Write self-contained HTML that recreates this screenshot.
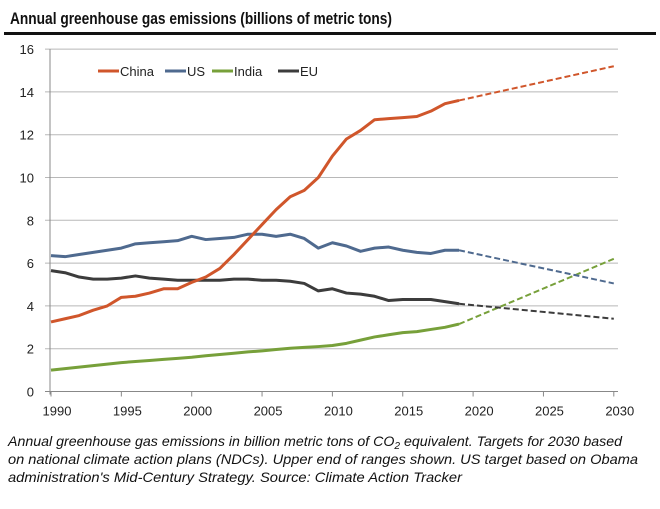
<!DOCTYPE html>
<html><head><meta charset="utf-8"><style>
body{margin:0;background:#fff;width:660px;height:504px;overflow:hidden;font-family:"Liberation Sans",sans-serif}
</style></head><body>
<svg width="660" height="504">
<text x="10" y="24" font-size="16.5" font-weight="bold" fill="#111" textLength="382" lengthAdjust="spacingAndGlyphs">Annual greenhouse gas emissions (billions of metric tons)</text>
<rect x="4" y="32" width="652" height="3" fill="#111"/>
<g id="grid"></g><g id="axes"></g><g id="series"></g>
<g font-size="13" fill="#222">
<line x1="98" y1="71" x2="119" y2="71" stroke="#d0562b" stroke-width="3"/><text x="120" y="76">China</text>
<line x1="165" y1="71" x2="186" y2="71" stroke="#4f6a8f" stroke-width="3"/><text x="187" y="76">US</text>
<line x1="212" y1="71" x2="233" y2="71" stroke="#77a03a" stroke-width="3"/><text x="234" y="76">India</text>
<line x1="278" y1="71" x2="299" y2="71" stroke="#3c3c3c" stroke-width="3"/><text x="300" y="76">EU</text>
</g>
<g font-size="14" font-style="italic" fill="#111">
<text x="8" y="446" textLength="614" lengthAdjust="spacingAndGlyphs">Annual greenhouse gas emissions in billion metric tons of CO<tspan font-size="10" dy="3">2</tspan><tspan dy="-3"> equivalent. Targets for 2030 based</tspan></text>
<text x="8" y="464" textLength="630" lengthAdjust="spacingAndGlyphs">on national climate action plans (NDCs). Upper end of ranges shown. US target based on Obama</text>
<text x="8" y="482" textLength="454" lengthAdjust="spacingAndGlyphs">administration's Mid-Century Strategy. Source: Climate Action Tracker</text>
</g>
</svg>
<script>
const years=[];for(let y=1990;y<=2019;y++)years.push(y);
const china=[3.25,3.4,3.55,3.8,4.0,4.4,4.45,4.6,4.8,4.8,5.1,5.35,5.75,6.4,7.1,7.8,8.5,9.1,9.4,10.0,11.0,11.8,12.2,12.7,12.75,12.8,12.85,13.1,13.45,13.6];
const us=[6.35,6.3,6.4,6.5,6.6,6.7,6.9,6.95,7.0,7.05,7.25,7.1,7.15,7.2,7.35,7.35,7.25,7.35,7.15,6.7,6.95,6.8,6.55,6.7,6.75,6.6,6.5,6.45,6.6,6.6];
const india=[1.0,1.07,1.14,1.21,1.28,1.35,1.4,1.45,1.5,1.55,1.6,1.67,1.73,1.79,1.85,1.9,1.96,2.02,2.06,2.1,2.15,2.25,2.4,2.55,2.65,2.75,2.8,2.9,3.0,3.15];
const eu=[5.65,5.55,5.35,5.25,5.25,5.3,5.4,5.3,5.25,5.2,5.2,5.2,5.2,5.25,5.25,5.2,5.2,5.15,5.05,4.7,4.8,4.6,4.55,4.45,4.25,4.3,4.3,4.3,4.2,4.1];
const targets2030={china:15.2,us:5.05,india:6.2,eu:3.4};
const yTicks=[0,2,4,6,8,10,12,14,16];
const xTicks=[1990,1995,2000,2005,2010,2015,2020,2025,2030];
const X=y=>51+(y-1990)*14.07, Y=v=>391.5-v*21.4;
const NS="http://www.w3.org/2000/svg";
function mk(p,t,a){const e=document.createElementNS(NS,t);for(const k in a)e.setAttribute(k,a[k]);p.appendChild(e);return e;}
const grid=document.getElementById('grid'),axes=document.getElementById('axes'),ser=document.getElementById('series');
yTicks.forEach(v=>{
 const l=mk(grid,'line',{x1:45,x2:618,y1:Y(v),y2:Y(v),stroke:v?'#b8b8b8':'#888','stroke-width':1});
 
 
 const t=mk(axes,'text',{x:34,y:Y(v)+5,'font-size':13,'text-anchor':'end',fill:'#222'});t.textContent=v;
 
 
});
const ya=mk(axes,'line',{x1:50,x2:50,y1:Y(16),y2:Y(0)+3,stroke:'#888'});


xTicks.forEach(y=>{
 mk(axes,'line',{x1:X(y),x2:X(y),y1:Y(0),y2:Y(0)+5,stroke:'#888'});
 const t=mk(axes,'text',{x:X(y)+6,y:Y(0)+24,'font-size':13,'text-anchor':'middle',fill:'#222'});t.textContent=y;
 
 
});
function draw(name,vals,target,col){
 const pts=vals.map((v,i)=>X(years[i])+','+Y(v)).join(' ');
 const p=mk(ser,'polyline',{points:pts,fill:'none',stroke:col,'stroke-width':3,'stroke-linejoin':'round'});
 
 
 const last=vals[vals.length-1];
 const d=mk(ser,'line',{x1:X(2019),y1:Y(last),x2:X(2030),y2:Y(target),stroke:col,'stroke-width':2,'stroke-dasharray':'6,3'});
 
 
}
draw('india',india,targets2030.india,'#77a03a');
draw('eu',eu,targets2030.eu,'#3c3c3c');
draw('us',us,targets2030.us,'#4f6a8f');
draw('china',china,targets2030.china,'#d0562b');
</script>
</body></html>
